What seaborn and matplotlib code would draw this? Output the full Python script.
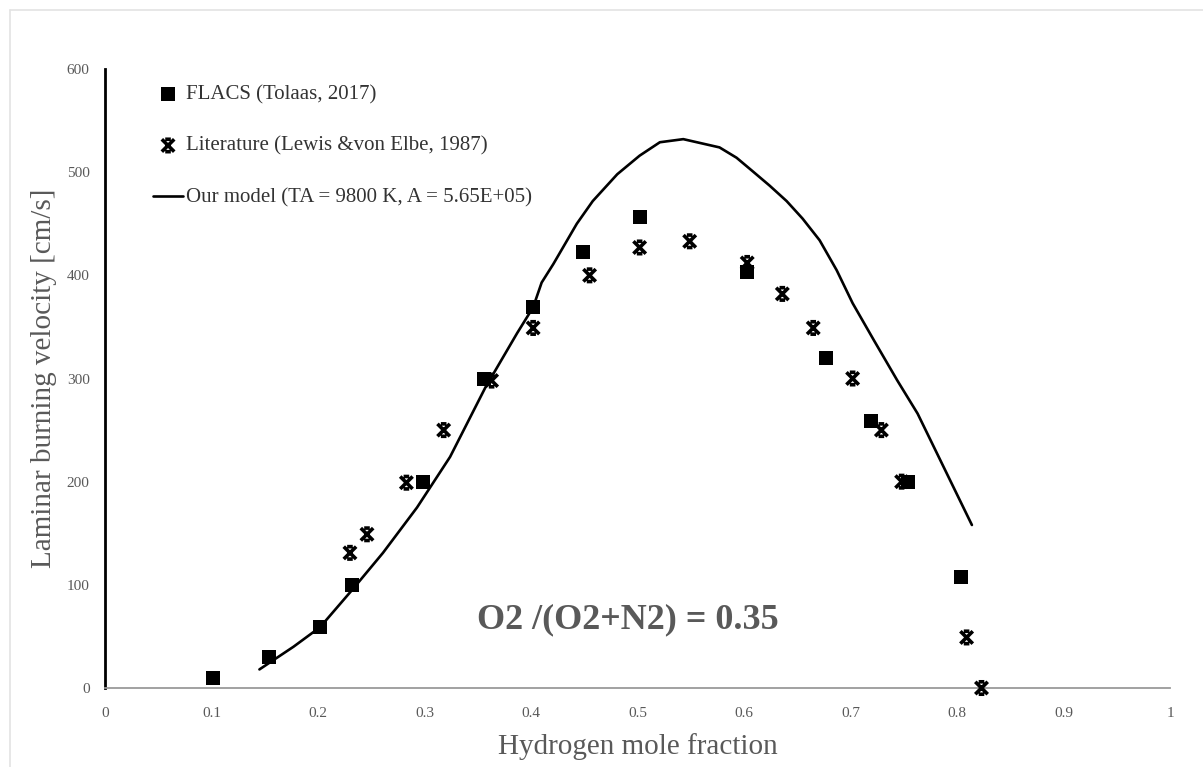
import matplotlib
matplotlib.use("Agg")
import matplotlib.pyplot as plt
from matplotlib.path import Path
from matplotlib.markers import MarkerStyle
from matplotlib.lines import Line2D
import seaborn as sns
import pandas as pd

# ---- data ----
flacs_x = [0.101, 0.154, 0.202, 0.232, 0.299, 0.356, 0.402, 0.449, 0.502, 0.603, 0.677, 0.719, 0.754, 0.804]
flacs_y = [10, 30, 59, 100, 200, 300, 369, 423, 457, 403, 320, 259, 200, 108]

lit_x = [0.230, 0.246, 0.283, 0.318, 0.363, 0.402, 0.455, 0.502, 0.549, 0.603, 0.636, 0.665, 0.702, 0.729, 0.748, 0.809, 0.823]
lit_y = [131, 149, 199, 250, 298, 349, 400, 427, 433, 412, 382, 349, 300, 250, 200, 49, 0]

model_x = [0.145, 0.177, 0.202, 0.232, 0.261, 0.293, 0.324, 0.357, 0.387, 0.402, 0.41, 0.421, 0.443, 0.458,
           0.481, 0.502, 0.521, 0.543, 0.577, 0.593, 0.608, 0.624, 0.64, 0.655, 0.671, 0.687, 0.702,
           0.722, 0.744, 0.763, 0.814]
model_y = [18, 40, 59, 95, 131, 175, 224, 291, 344, 369, 393, 411, 450, 472,
           498, 516, 529, 532, 524, 514, 501, 487, 472, 455, 434, 405, 373,
           337, 298, 266, 158]

x_ticks = [0, 0.1, 0.2, 0.3, 0.4, 0.5, 0.6, 0.7, 0.8, 0.9, 1.0]
x_tick_labels = ["0", "0.1", "0.2", "0.3", "0.4", "0.5", "0.6", "0.7", "0.8", "0.9", "1"]
y_ticks = [0, 100, 200, 300, 400, 500, 600]

label_flacs = "FLACS (Tolaas, 2017)"
label_lit = "Literature (Lewis &von Elbe, 1987)"
label_model = "Our model (TA = 9800 K, A = 5.65E+05)"
annotation = "O2 /(O2+N2) = 0.35"

df_f = pd.DataFrame({"x": flacs_x, "y": flacs_y})
df_l = pd.DataFrame({"x": lit_x, "y": lit_y})
df_m = pd.DataFrame({"x": model_x, "y": model_y})

# ---- style ----
sns.set_theme(style="white")
plt.rcParams["font.family"] = ["Liberation Serif", "DejaVu Serif"]

fig = plt.figure(figsize=(12.03, 7.67), dpi=100)
ax = fig.add_axes([105 / 1203, 1 - 688 / 767, 1065 / 1203, 619 / 767])

# custom x marker with small caps (stroked only)
verts = [(-1, -1), (1, 1), (-1, 1), (1, -1), (-0.45, 1), (0.45, 1), (-0.45, -1), (0.45, -1)]
codes = [Path.MOVETO, Path.LINETO, Path.MOVETO, Path.LINETO,
         Path.MOVETO, Path.LINETO, Path.MOVETO, Path.LINETO]
xmark = MarkerStyle(Path(verts, codes))

sns.lineplot(data=df_m, x="x", y="y", ax=ax, color="black", linewidth=1.9,
             sort=False, estimator=None, label=label_model)
sns.scatterplot(data=df_f, x="x", y="y", ax=ax, marker="s", s=105, color="black",
                linewidth=0, label=label_flacs, zorder=3, clip_on=False)
sns.scatterplot(data=df_l, x="x", y="y", ax=ax, marker=xmark, s=80,
                facecolor="none", edgecolor="black", linewidth=2.6,
                label=label_lit, zorder=4, clip_on=False)

ax.set_xlim(0, 1)
ax.set_ylim(0, 600)
ax.set_xticks(x_ticks)
ax.set_xticklabels(x_tick_labels)
ax.set_yticks(y_ticks)
ax.tick_params(axis="both", length=0, labelsize=11, labelcolor="#595959")
ax.tick_params(axis="x", pad=14)
ax.tick_params(axis="y", pad=11)

for s in ["top", "right"]:
    ax.spines[s].set_visible(False)
ax.spines["left"].set_color("black")
ax.spines["left"].set_linewidth(2.0)
ax.spines["bottom"].set_color("#9a9a9a")
ax.spines["bottom"].set_linewidth(1.3)
ax.grid(False)

ax.set_xlabel("Hydrogen mole fraction", fontsize=21, color="#595959")
ax.set_ylabel("Laminar burning velocity [cm/s]", fontsize=21, color="#595959")
ax.xaxis.set_label_coords(0.5, -0.072)
ax.yaxis.set_label_coords(-0.045, 0.5)

ax.text(0.491, 66, annotation, fontsize=26, fontweight="bold", color="#595959",
        ha="center", va="center")

# legend ordering: FLACS, Literature, Model
h, l = ax.get_legend_handles_labels()
order = [l.index(label_flacs), l.index(label_lit), l.index(label_model)]
leg = ax.legend([h[i] for i in order], [l[i] for i in order],
                loc="upper left", bbox_to_anchor=(0.045, 0.975), frameon=False,
                fontsize=15, handlelength=1.45, handletextpad=0.15,
                labelspacing=1.55, borderaxespad=0, borderpad=0)
for t in leg.get_texts():
    t.set_color("#333333")

# light page border
fig.add_artist(Line2D([10 / 1203, 10 / 1203], [0, 1 - 10 / 767], transform=fig.transFigure,
                      color="#e3e3e3", linewidth=1.2))
fig.add_artist(Line2D([10 / 1203, 1], [1 - 10 / 767, 1 - 10 / 767], transform=fig.transFigure,
                      color="#e3e3e3", linewidth=1.2))

fig.savefig("out.png", dpi=100, facecolor="white")
